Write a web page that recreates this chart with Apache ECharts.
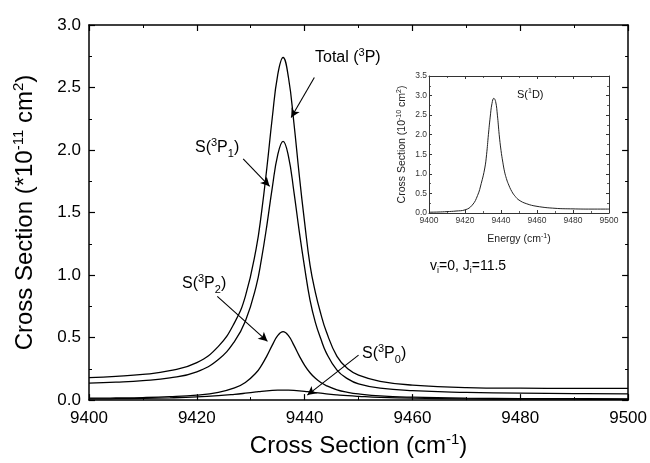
<!DOCTYPE html>
<html>
<head>
<meta charset="utf-8">
<script src="https://cdn.jsdelivr.net/npm/echarts@6/dist/echarts.min.js"></script>
<style>
html,body{margin:0;padding:0;background:#fff;}
#c{width:650px;height:463px;}
</style>
</head>
<body>
<div id="c"></div>
<script>
// ---- data ----
const energy = [9400,9405,9410,9415,9420,9424,9427,9429,9431,9432,9433,9434,9435,9436,9437,9438,9439,9440,9441,9442,9443,9444,9446,9448,9450,9454,9460,9470,9480,9490,9500];
const totalP = [0.18,0.19,0.205,0.235,0.30,0.43,0.62,0.83,1.21,1.50,1.86,2.26,2.60,2.74,2.58,2.22,1.80,1.42,1.08,0.86,0.69,0.55,0.35,0.25,0.20,0.15,0.12,0.10,0.095,0.094,0.093];
const s3P1 = [0.135,0.143,0.155,0.177,0.226,0.325,0.47,0.63,0.91,1.13,1.40,1.70,1.96,2.07,1.95,1.67,1.35,1.06,0.80,0.62,0.49,0.38,0.24,0.17,0.13,0.095,0.075,0.062,0.055,0.052,0.05];
const s3P2 = [0.015,0.017,0.020,0.027,0.040,0.062,0.097,0.141,0.219,0.278,0.354,0.440,0.516,0.548,0.516,0.440,0.354,0.278,0.219,0.174,0.141,0.116,0.082,0.062,0.049,0.033,0.023,0.015,0.012,0.011,0.010];
const s3P0 = [0.009,0.011,0.014,0.018,0.025,0.035,0.046,0.055,0.065,0.070,0.074,0.077,0.079,0.080,0.079,0.077,0.074,0.070,0.065,0.060,0.055,0.050,0.042,0.035,0.030,0.022,0.015,0.010,0.008,0.007,0.006];
const s1D = [0.02,0.025,0.035,0.05,0.08,0.20,0.45,0.75,1.15,1.5,2.0,2.45,2.8,2.93,2.85,2.5,2.0,1.6,1.3,1.05,0.88,0.75,0.55,0.42,0.33,0.24,0.17,0.12,0.105,0.10,0.10];

// arrows: [from, to] in data coordinates
const arrowTotal = [[9441.8,2.58],[9437.5,2.26]];
const arrowP1 = [[9428.6,1.93],[9433.5,1.71]];
const arrowP2 = [[9423.8,0.83],[9433.1,0.47]];
const arrowP0 = [[9450.0,0.36],[9440.5,0.04]];

const fam = '"Liberation Sans", Arial, sans-serif';
const pair = (xs, ys) => xs.map((x, i) => [x, ys[i]]);

const chart = echarts.init(document.getElementById('c'), null, {renderer:'canvas'});

const mainRich = {
  n:{fontSize:24,fontFamily:fam,color:'#000',lineHeight:28},
  sup:{fontSize:15,fontFamily:fam,color:'#000',verticalAlign:'top',lineHeight:28}
};
const insetRich = {
  n:{fontSize:10.5,fontFamily:fam,color:'#222',lineHeight:13},
  sup:{fontSize:7,fontFamily:fam,color:'#222',verticalAlign:'top',lineHeight:13}
};
const lblRich = {
  n:{fontSize:16,fontFamily:fam,fill:'#000',lineHeight:22},
  sup:{fontSize:11,fontFamily:fam,fill:'#000',verticalAlign:'top',lineHeight:22},
  sub:{fontSize:11,fontFamily:fam,fill:'#000',verticalAlign:'bottom',lineHeight:22}
};

function axisX(grid, pos, opts){
  return Object.assign({
    type:'value', gridIndex:grid, position:pos, min:9400, max:9500, interval:20,
    axisLine:{show:true,onZero:false,lineStyle:{color:'#000',width:1.5}},
    axisTick:{show:true,inside:true,length:6,lineStyle:{color:'#000',width:1.2}},
    minorTick:{show:true,splitNumber:2,length:3,lineStyle:{color:'#000',width:1}},
    splitLine:{show:false},
    axisLabel:{show:false}
  }, opts||{});
}
function axisY(grid, pos, mx, opts){
  return Object.assign({
    type:'value', gridIndex:grid, position:pos, min:0, max:mx, interval:0.5,
    axisLine:{show:true,onZero:false,lineStyle:{color:'#000',width:1.5}},
    axisTick:{show:true,inside:true,length:6,lineStyle:{color:'#000',width:1.2}},
    minorTick:{show:true,splitNumber:2,length:3,lineStyle:{color:'#000',width:1}},
    splitLine:{show:false},
    axisLabel:{show:false}
  }, opts||{});
}

const arrowLine = (a) => [{coord:a[0]},{coord:a[1]}];
const lineSeries = (name, ys, ai, col, w) => ({
  type:'line', name:name, xAxisIndex:ai, yAxisIndex:ai, data:pair(energy, ys),
  smooth:0.45, showSymbol:false, lineStyle:{color:col, width:w}
});

const insetTick = {show:true,inside:true,length:3,lineStyle:{color:'#333',width:1}};
const insetMinor = {show:true,splitNumber:2,length:2,lineStyle:{color:'#333',width:0.8}};
const insetLine = {show:true,onZero:false,lineStyle:{color:'#333',width:1}};

const totalSeries = lineSeries('Total (3P)', totalP, 0, '#000', 1.3);
totalSeries.markLine = {silent:true, symbol:['none','arrow'], symbolSize:[7,9], animation:false,
  label:{show:false}, lineStyle:{color:'#000',width:1.1,type:'solid'},
  emphasis:{disabled:true},
  data:[arrowLine(arrowTotal),arrowLine(arrowP1),arrowLine(arrowP2),arrowLine(arrowP0)]};

const option = {
  animation:false,
  backgroundColor:'#fff',
  grid:[
    {left:89, right:20, top:25, bottom:62},
    {left:429, right:41, top:76, bottom:250}
  ],
  xAxis:[
    axisX(0,'bottom',{
      axisLabel:{show:true,fontSize:17,fontFamily:fam,color:'#000',margin:10,
        formatter:(v)=>String(v)},
      name:'{n|Cross Section (cm}{sup|-1}{n|)}',
      nameLocation:'middle', nameGap:31,
      nameTextStyle:{rich:mainRich}
    }),
    axisX(0,'top'),
    axisX(1,'bottom',{
      axisTick:insetTick, minorTick:insetMinor, axisLine:insetLine,
      axisLabel:{show:true,fontSize:8.5,fontFamily:fam,color:'#333',margin:3,
        formatter:(v)=>String(v)},
      name:'{n|Energy (cm}{sup|-1}{n|)}',
      nameLocation:'middle', nameGap:20,
      nameTextStyle:{rich:{
        n:{fontSize:10.5,fontFamily:fam,color:'#222',lineHeight:13},
        sup:{fontSize:7,fontFamily:fam,color:'#222',verticalAlign:'top',lineHeight:13}
      }}
    }),
    axisX(1,'top',{axisTick:insetTick, minorTick:insetMinor, axisLine:insetLine})
  ],
  yAxis:[
    axisY(0,'left',3,{
      axisLabel:{show:true,fontSize:17,fontFamily:fam,color:'#000',margin:8,
        formatter:(v)=>v.toFixed(1)},
      name:'{n|Cross Section (*10}{sup|-11}{n| cm}{sup|2}{n|)}',
      nameLocation:'middle', nameGap:50, nameRotate:90,
      nameTextStyle:{rich:mainRich}
    }),
    axisY(0,'right',3),
    axisY(1,'left',3.5,{
      axisTick:insetTick, minorTick:insetMinor, axisLine:insetLine,
      axisLabel:{show:true,fontSize:8.5,fontFamily:fam,color:'#333',margin:2,
        formatter:(v)=>v.toFixed(1)},
      name:'{n|Cross Section (10}{sup|-10}{n| cm}{sup|2}{n|)}',
      nameLocation:'middle', nameGap:20, nameRotate:90,
      nameTextStyle:{rich:insetRich}
    }),
    axisY(1,'right',3.5,{axisTick:insetTick, minorTick:insetMinor, axisLine:insetLine})
  ],
  series:[
    totalSeries,
    lineSeries('S(3P1)', s3P1, 0, '#000', 1.3),
    lineSeries('S(3P2)', s3P2, 0, '#000', 1.3),
    lineSeries('S(3P0)', s3P0, 0, '#000', 1.3),
    lineSeries('S(1D)', s1D, 2, '#222', 1)
  ],
  graphic:[
    {type:'text', left:315, top:47, style:{text:'{n|Total (}{sup|3}{n|P)}', rich:lblRich}},
    {type:'text', left:195, top:137, style:{text:'{n|S(}{sup|3}{n|P}{sub|1}{n|)}', rich:lblRich}},
    {type:'text', left:182, top:273, style:{text:'{n|S(}{sup|3}{n|P}{sub|2}{n|)}', rich:lblRich}},
    {type:'text', left:362, top:343, style:{text:'{n|S(}{sup|3}{n|P}{sub|0}{n|)}', rich:lblRich}},
    {type:'text', left:430, top:259, style:{text:'{n|v}{sub|i}{n|=0, J}{sub|i}{n|=11.5}', rich:{
      n:{fontSize:14,fontFamily:fam,fill:'#000',lineHeight:18},
      sub:{fontSize:9,fontFamily:fam,fill:'#000',verticalAlign:'bottom',lineHeight:18}
    }}},
    {type:'text', left:517, top:88, style:{text:'{n|S(}{sup|1}{n|D)}', rich:{
      n:{fontSize:11,fontFamily:fam,fill:'#111',lineHeight:14},
      sup:{fontSize:7,fontFamily:fam,fill:'#111',verticalAlign:'top',lineHeight:14}
    }}}
  ]
};
chart.setOption(option);
</script>
</body>
</html>
